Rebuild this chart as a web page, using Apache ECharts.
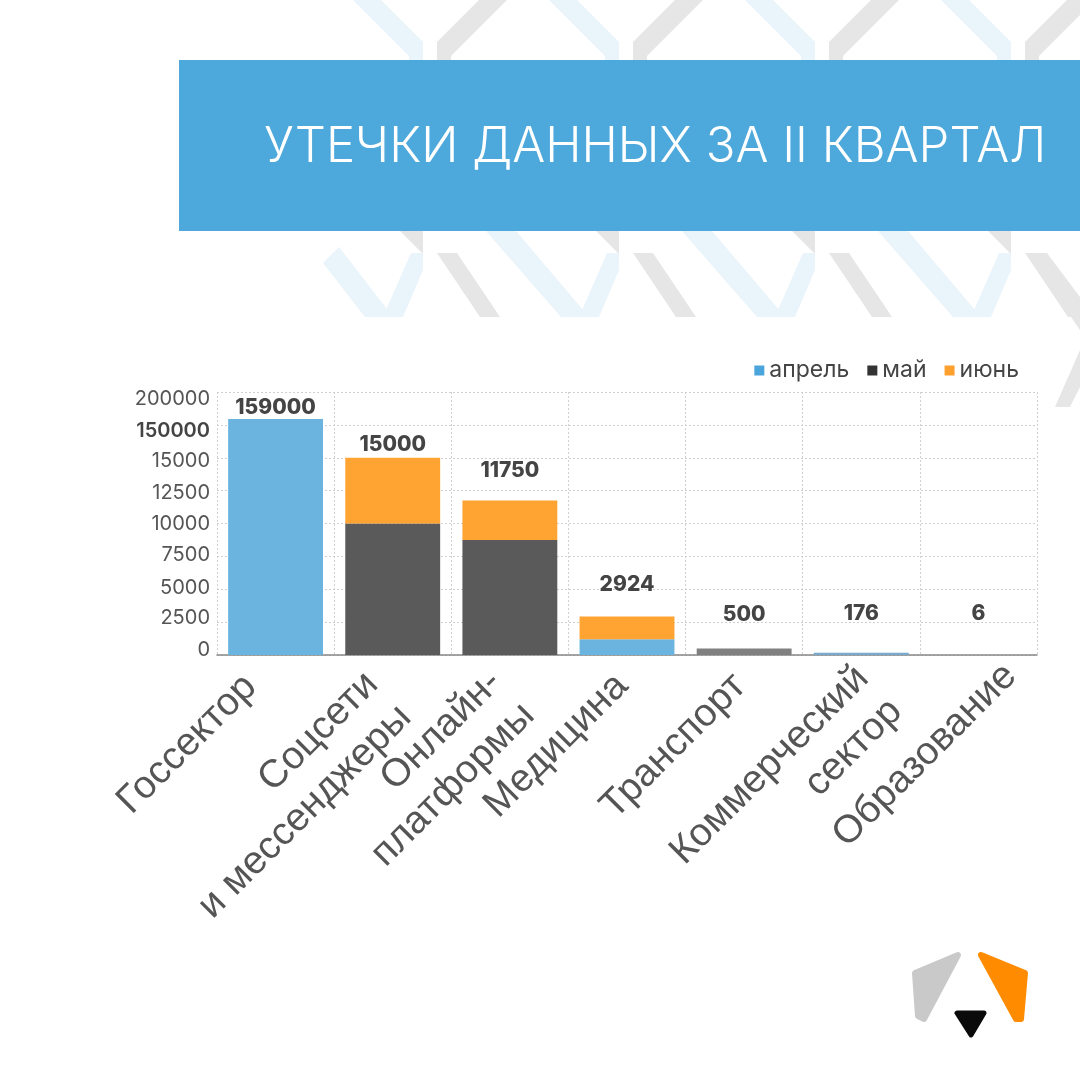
<!DOCTYPE html>
<html>
<head>
<meta charset="utf-8">
<script src="https://cdn.jsdelivr.net/npm/echarts@6/dist/echarts.min.js"></script>
<style>html,body{margin:0;padding:0;background:#fff}#chart{width:1080px;height:1080px}</style>
</head>
<body>
<div id="chart"></div>
<script>
// ---------- data ----------
const categories = ['Госсектор', 'Соцсети\nи мессенджеры', 'Онлайн-\nплатформы', 'Медицина', 'Транспорт', 'Коммерческий\nсектор', 'Образование'];
const seriesNames = ['апрель', 'май', 'июнь'];
const aprilValues = [159000, 0, 0, 1200, 0, 176, 6];
const mayValues = [0, 10000, 8750, 0, 500, 0, 0];
const juneValues = [0, 5000, 3000, 1724, 0, 0, 0];
const yTickValues = [0, 2500, 5000, 7500, 10000, 12500, 15000, 150000, 200000];
const titleText = 'УТЕЧКИ ДАННЫХ ЗА II КВАРТАЛ';

// ---------- presentation ----------
const barColors = ['#6cb4e0', '#5a5a5a', '#ffa333'];
const legendColors = ['#4aa5dc', '#333333', '#ff9f2e'];
const labelLift = [1, 3, 19, 21, 23, 28, 31];
// screen nudge (dx, dy) of each rotated category label
const labelNudge = [[-25, 8], [-4, 22], [2, 20], [-5, 7], [-4, 7], [18, 16], [32, -3]];
// vertical nudge of y tick labels relative to their grid lines
const yLabelNudge = [-5, -4, -1.7, -1, 0.7, 2.7, 3.7, 6, 6.6];

function toAxis(v) {
  for (let i = 0; i < yTickValues.length - 1; i++) {
    if (v <= yTickValues[i + 1]) return i + (v - yTickValues[i]) / (yTickValues[i + 1] - yTickValues[i]);
  }
  const n = yTickValues.length - 1;
  return n + (v - yTickValues[n]) / (yTickValues[n] - yTickValues[n - 1]);
}

const raw = [aprilValues, mayValues, juneValues];
const totals = categories.map((_, i) => aprilValues[i] + mayValues[i] + juneValues[i]);

function segData(k) {
  return categories.map((_, i) => {
    let below = 0;
    for (let j = 0; j < k; j++) below += raw[j][i];
    const top = below + raw[k][i];
    const item = { value: toAxis(top) - toAxis(below) };
    if (k === 1 && i === 4) item.itemStyle = { color: '#808080' };
    if (k === 0 && i === 5) item.itemStyle = { color: '#78a9cf' };
    if (k === 2) item.label = { distance: labelLift[i] };
    return item;
  });
}

const series = seriesNames.map((name, k) => ({
  name: name,
  type: 'bar',
  stack: 'total',
  barCategoryGap: '19%',
  itemStyle: { color: barColors[k] },
  data: segData(k),
  label: k === 2 ? {
    show: true,
    position: 'top',
    formatter: p => String(totals[p.dataIndex]),
    fontFamily: 'Inter',
    fontWeight: 800,
    fontSize: 21,
    color: '#444'
  } : { show: false }
}));

// ---------- rotated category labels (rich per category for nudging) ----------
const LABEL_FONT = { fontFamily: 'Liberation Sans', fontSize: 39, lineHeight: 47, color: '#555' };
const catRich = {};
categories.forEach((c, i) => {
  const lines = c.split('\n');
  const dx = labelNudge[i][0], dy = labelNudge[i][1];
  const a = (dx - dy) / Math.SQRT2;      // along text direction
  const b = (dx + dy) / Math.SQRT2;      // perpendicular (down-right)
  lines.forEach((ln, j) => {
    catRich['c' + i + '_' + j] = Object.assign({
      padding: [b > 0 ? 2 * b : 0, -a, b < 0 ? -2 * b : 0, 0]
    }, LABEL_FONT);
  });
});
function catFormatter(value, index) {
  return value.split('\n').map((ln, j) => '{c' + index + '_' + j + '|' + ln + '}').join('\n');
}

// ---------- y tick labels ----------
const yRich = {};
yTickValues.forEach((t, i) => {
  const off = yLabelNudge[i];
  yRich['y' + i] = {
    fontFamily: 'Inter', fontSize: 20,
    color: i === 7 ? '#444' : '#555',
    fontWeight: i === 7 ? 600 : 400,
    padding: [off > 0 ? 2 * off : 0, 0, off < 0 ? -2 * off : 0, 0]
  };
});

// ---------- background decoration ----------
const deco = [];
const blueC = '#eaf4fb', grayC = '#e6e6e6';
[423, 619, 815, 1011].forEach((P, idx) => {
  deco.push({ type: 'polygon', shape: { points: [[P - 70, 0], [P - 42, 0], [P, 42], [P, 60], [P - 14, 60], [P - 14, 56]] }, style: { fill: blueC } });
  deco.push({ type: 'polygon', shape: { points: [[P + 84, 0], [P + 56, 0], [P + 14, 42], [P + 14, 60], [P + 28, 60], [P + 28, 56]] }, style: { fill: grayC } });
  deco.push({ type: 'polygon', shape: { points: [[P - 23, 231], [P, 231], [P, 254]] }, style: { fill: grayC } });
  deco.push({ type: 'polygon', shape: { points: [[P + 14, 253], [P + 34, 253], [P + 77, 317], [P + 57, 317]] }, style: { fill: grayC } });
  const leftArm = idx === 0
    ? [[P - 100, 263], [P - 84, 247], [P - 30, 317], [P - 58, 317]]
    : [[P - 133, 231], [P - 103, 231], [P - 30, 317], [P - 58, 317]];
  deco.push({ type: 'polygon', shape: { points: leftArm }, style: { fill: blueC } });
  deco.push({ type: 'polygon', shape: { points: [[P - 12, 253], [P, 253], [P, 270], [P - 20, 317], [P - 40, 317]] }, style: { fill: blueC } });
});
deco.push({ type: 'polygon', shape: { points: [[1027, 253], [1047, 253], [1080, 297], [1080, 330]] }, style: { fill: grayC } });
deco.push({ type: 'polygon', shape: { points: [[1080, 350], [1080, 387], [1070, 407], [1055, 407]] }, style: { fill: grayC } });

const graphics = deco.concat([
  { type: 'rect', shape: { x: 179, y: 60, width: 901, height: 171 }, style: { fill: '#4da8dc' } },
  { type: 'text', left: 264, top: 123, style: { text: titleText, fill: '#ffffff', fontFamily: 'Inter', fontWeight: 300, fontSize: 49 } },
  { type: 'polygon', shape: { points: [[915, 973], [958, 955], [924, 1019], [918, 1016]] }, style: { fill: '#c9c9c9', stroke: '#c9c9c9', lineWidth: 6, lineJoin: 'round' } },
  { type: 'polygon', shape: { points: [[981, 955], [1025, 973], [1021, 1019], [1016, 1019]] }, style: { fill: '#ff8c00', stroke: '#ff8c00', lineWidth: 6, lineJoin: 'round' } },
  { type: 'polygon', shape: { points: [[957, 1013], [984, 1013], [971, 1035]] }, style: { fill: '#0a0a0a', stroke: '#0a0a0a', lineWidth: 5, lineJoin: 'round' } }
]);

const chart = echarts.init(document.getElementById('chart'), null, { renderer: 'canvas' });
chart.setOption({
  backgroundColor: '#ffffff',
  animation: false,
  graphic: graphics,
  legend: {
    right: 56,
    top: 354,
    icon: 'rect',
    itemWidth: 10,
    itemHeight: 10,
    itemGap: 18,
    textStyle: { fontFamily: 'Inter', fontSize: 23, color: '#444' },
    data: seriesNames.map((n, k) => ({ name: n, itemStyle: { color: legendColors[k] } }))
  },
  grid: { left: 217, right: 43, top: 392, bottom: 425, containLabel: false, outerBoundsMode: 'none' },
  xAxis: {
    type: 'category',
    data: categories,
    axisLine: { lineStyle: { color: '#888', width: 1.5 } },
    axisTick: { show: false },
    splitLine: { show: true, interval: 0, lineStyle: { color: '#d0d0d0', type: [2, 2] } },
    axisLabel: {
      interval: 0,
      rotate: 45,
      fontFamily: 'Liberation Sans',
      fontSize: 39,
      lineHeight: 47,
      color: '#555',
      margin: 18,
      formatter: catFormatter,
      rich: catRich
    }
  },
  yAxis: {
    type: 'value',
    min: 0,
    max: yTickValues.length - 1,
    interval: 1,
    axisLine: { show: false },
    axisTick: { show: false },
    splitLine: { lineStyle: { color: '#d0d0d0', type: [2, 2] } },
    axisLabel: {
      margin: 7,
      fontFamily: 'Inter',
      fontSize: 20,
      color: '#555',
      formatter: v => {
        const i = Math.round(v);
        return '{y' + i + '|' + yTickValues[i] + '}';
      },
      rich: yRich
    }
  },
  series: series
});
</script>
</body>
</html>
